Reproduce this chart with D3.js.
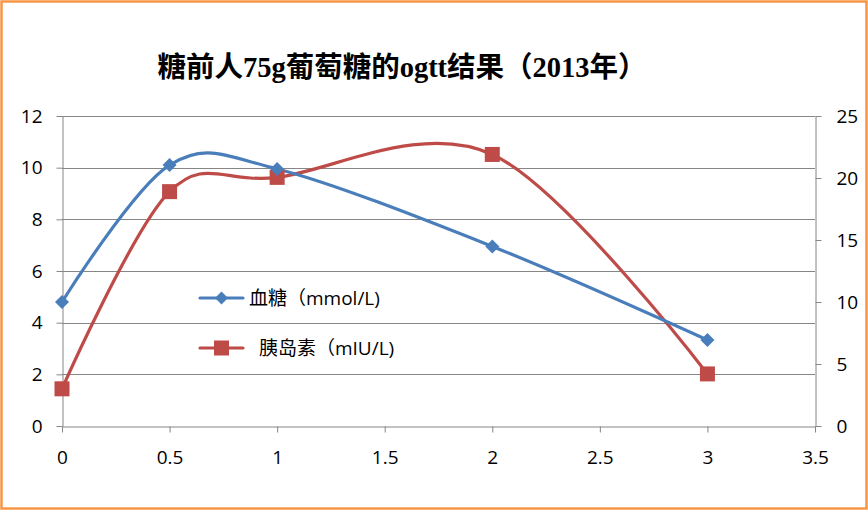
<!DOCTYPE html>
<html><head><meta charset="utf-8">
<script src="https://cdn.jsdelivr.net/npm/d3@7"></script>
<style>body{margin:0;background:#fff}svg{display:block}</style>
</head><body><svg id="c" width="868" height="510"></svg>
<script>
const xValues = [0, 0.5, 1, 2, 3];
const glucose = [4.8, 10.1, 9.95, 6.95, 3.33];
const insulin = [3.0, 18.9, 20.05, 21.9, 4.2];
const xTicks = [0, 0.5, 1, 1.5, 2, 2.5, 3, 3.5];
const leftTicks = [0, 2, 4, 6, 8, 10, 12];
const rightTicks = [0, 5, 10, 15, 20, 25];
const title = "糖前人75g葡萄糖的ogtt结果（2013年）";
const seriesNames = ["血糖（mmol/L)", " 胰岛素（mIU/L)"];

const svg = d3.select("#c");
const W = 868, H = 510;
const L = 62, R = 815, T = 116, B = 426;
const x = d3.scaleLinear().domain([0, 3.5]).range([L, R]);
const yL = d3.scaleLinear().domain([0, 12]).range([B, T]);
const yR = d3.scaleLinear().domain([0, 25]).range([B, T]);
const grey = "#868686";
const font = "'Open Sans','Noto Sans CJK SC',sans-serif";

svg.append("rect").attr("x", 1.5).attr("y", 1.5).attr("width", W - 3).attr("height", H - 3)
  .attr("fill", "#fff").attr("stroke", "#F79646").attr("stroke-width", 2.5);

svg.append("text").attr("x", 402).attr("y", 77).attr("text-anchor", "middle")
  .style("font-family", "'Liberation Serif','Noto Sans CJK SC',serif").style("font-weight", "bold")
  .style("font-size", "28.5px").attr("fill", "#000").text(title);

// gridlines
svg.append("g").selectAll("line").data(leftTicks.filter(d => d > 0)).join("line")
  .attr("x1", L).attr("x2", R).attr("y1", d => Math.round(yL(d)) + 0.5).attr("y2", d => Math.round(yL(d)) + 0.5)
  .attr("stroke", grey).attr("stroke-width", 1);

function styleAxis(g) {
  g.attr("font-size", null).attr("font-family", null);
  g.select(".domain").attr("stroke", grey).attr("stroke-width", 1);
  g.selectAll(".tick line").attr("stroke", grey);
  g.selectAll(".tick text").style("font-family", font).style("font-size", "19px").attr("fill", "#000");
}
svg.append("g").attr("transform", `translate(0,${B + 0.5})`)
  .call(d3.axisBottom(x).tickValues(xTicks).tickSize(6).tickSizeOuter(0).tickPadding(18).tickFormat(d => String(d)))
  .call(styleAxis);
svg.append("g").attr("transform", `translate(${L + 0.5},0)`)
  .call(d3.axisLeft(yL).tickValues(leftTicks).tickSize(6).tickSizeOuter(0).tickPadding(14).tickFormat(d => String(d)))
  .call(styleAxis);
svg.append("g").attr("transform", `translate(${R + 0.5},0)`)
  .call(d3.axisRight(yR).tickValues(rightTicks).tickSize(6).tickSizeOuter(0).tickPadding(15).tickFormat(d => String(d)))
  .call(styleAxis);

const blue = "#4A7EBB", red = "#BE4B48";
const curve = d3.curveCardinal.tension(0);
const lineG = d3.line().x((d, i) => x(xValues[i])).y(d => yL(d)).curve(curve);
const lineI = d3.line().x((d, i) => x(xValues[i])).y(d => yR(d)).curve(curve);

svg.append("path").attr("d", lineI(insulin)).attr("fill", "none").attr("stroke", red).attr("stroke-width", 3.2);
svg.append("path").attr("d", lineG(glucose)).attr("fill", "none").attr("stroke", blue).attr("stroke-width", 3.2);

const diamond = s => `M0,${-s}L${s},0L0,${s}L${-s},0Z`;
svg.append("g").selectAll("rect").data(insulin).join("rect")
  .attr("x", (d, i) => x(xValues[i]) - 7.5).attr("y", d => yR(d) - 7.5)
  .attr("width", 15).attr("height", 15).attr("fill", red);
svg.append("g").selectAll("path").data(glucose).join("path")
  .attr("transform", (d, i) => `translate(${x(xValues[i])},${yL(d)})`)
  .attr("d", diamond(7)).attr("fill", blue);

// legend
const lg = svg.append("g").style("font-family", font).style("font-size", "19px");
lg.append("line").attr("x1", 200).attr("x2", 243).attr("y1", 298).attr("y2", 298).attr("stroke", blue).attr("stroke-width", 3.2).attr("stroke-linecap", "round");
lg.append("path").attr("transform", "translate(221.5,298)").attr("d", diamond(6.5)).attr("fill", blue);
lg.append("text").attr("x", 249).attr("y", 305).attr("fill", "#000").attr("xml:space", "preserve").text(seriesNames[0]);
lg.append("line").attr("x1", 200).attr("x2", 243).attr("y1", 348).attr("y2", 348).attr("stroke", red).attr("stroke-width", 3.2).attr("stroke-linecap", "round");
lg.append("rect").attr("x", 214).attr("y", 340.5).attr("width", 15).attr("height", 15).attr("fill", red);
lg.append("text").attr("x", 254).attr("y", 355).attr("fill", "#000").attr("xml:space", "preserve").text(seriesNames[1]);
</script></body></html>
